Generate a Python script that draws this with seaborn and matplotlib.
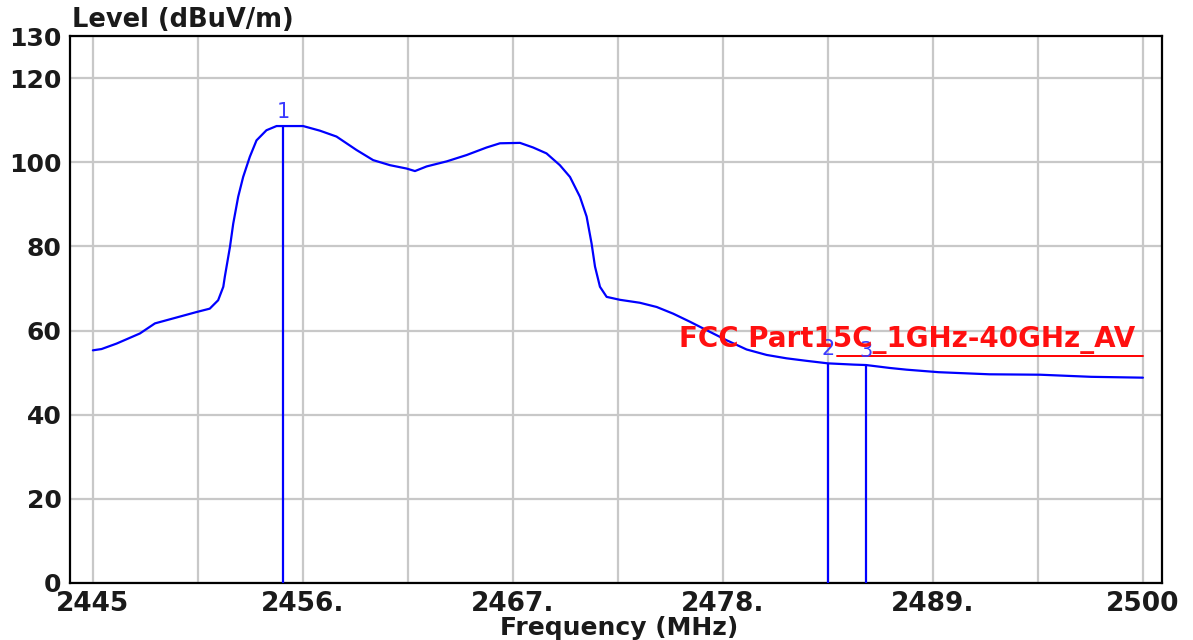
import matplotlib
matplotlib.use("Agg")
import matplotlib.pyplot as plt
import seaborn as sns
import pandas as pd

# ---- data ----
freq_mhz = [2445.0, 2445.45, 2446.24, 2447.46, 2448.25, 2449.38, 2450.43, 2451.12, 2451.56, 2451.83,
            2451.91, 2452.18, 2452.35, 2452.61, 2452.87, 2453.22, 2453.57, 2454.09, 2454.62, 2454.96,
            2456.01, 2456.89, 2457.76, 2458.81, 2459.68, 2460.56, 2461.43, 2461.87, 2462.48, 2463.53,
            2464.57, 2465.62, 2466.32, 2467.37, 2468.06, 2468.76, 2469.46, 2469.99, 2470.51, 2470.86,
            2471.12, 2471.30, 2471.56, 2471.91, 2472.61, 2473.65, 2474.53, 2475.40, 2476.27, 2477.14,
            2478.19, 2479.24, 2480.29, 2481.33, 2482.38, 2483.50, 2484.86, 2485.50, 2486.75, 2487.62,
            2489.30, 2491.96, 2494.62, 2497.29, 2500.0]
level_dbuv = [55.3, 55.6, 56.9, 59.3, 61.7, 63.1, 64.4, 65.2, 67.2, 70.4,
              72.8, 79.9, 85.4, 91.8, 96.5, 101.3, 105.2, 107.6, 108.6, 108.6,
              108.6, 107.5, 106.1, 102.9, 100.5, 99.3, 98.5, 97.9, 99.0, 100.2,
              101.7, 103.5, 104.5, 104.6, 103.5, 102.1, 99.3, 96.5, 91.8, 87.1,
              80.7, 75.2, 70.4, 68.0, 67.3, 66.6, 65.6, 64.0, 62.1, 60.1,
              57.7, 55.5, 54.2, 53.4, 52.8, 52.2, 51.9, 51.8, 51.1, 50.7,
              50.1, 49.6, 49.5, 49.0, 48.8]

marker_ids = ["1", "2", "3"]
marker_freq = [2454.96, 2483.50, 2485.50]
marker_level = [108.6, 52.2, 51.8]

limit_name = "FCC Part15C_1GHz-40GHz_AV"
limit_freq = [2484.0, 2500.0]
limit_level = [54.0, 54.0]

x_grid = [2445.0 + 5.5 * k for k in range(11)]
x_tick_labels = ["2445", "", "2456.", "", "2467.", "", "2478.", "", "2489.", "", "2500"]
y_ticks = [0, 20, 40, 60, 80, 100, 120, 130]
y_tick_labels = ["0", "20", "40", "60", "80", "100", "120", "130"]

# ---- style ----
sns.set_style("white")
plt.rcParams["font.family"] = ["DejaVu Sans"]

fig = plt.figure(figsize=(11.93, 6.40), dpi=100)
ax = fig.add_axes([70 / 1193, 1 - 583 / 640, (1162 - 70) / 1193, (583 - 36) / 640])

trace = pd.DataFrame({"Frequency": freq_mhz, "Level": level_dbuv})
sns.lineplot(data=trace, x="Frequency", y="Level", ax=ax, color="#0000ff",
             linewidth=1.6, estimator=None, sort=False, zorder=3)

limit = pd.DataFrame({"Frequency": limit_freq, "Level": limit_level})
sns.lineplot(data=limit, x="Frequency", y="Level", ax=ax, color="#ff0000",
             linewidth=1.4, estimator=None, sort=False, zorder=3)

# markers
ax.vlines(marker_freq, 0, marker_level, color="#0000ff", linewidth=1.6, zorder=4)
for mid, mf, ml in zip(marker_ids, marker_freq, marker_level):
    ax.text(mf, ml + 2.0, mid, color="#3a3aff", fontsize=15, ha="center",
            va="baseline", zorder=5)

ax.text(2499.6, 56.0, limit_name, color="#ff1010", fontsize=20, fontweight="bold",
        ha="right", va="baseline", zorder=5)

ax.set_xlim(2443.8, 2501.0)
ax.set_ylim(0, 130)
ax.set_xticks(x_grid)
ax.set_xticklabels(x_tick_labels, fontsize=19, fontweight="bold", color="#1a1a1a")
ax.set_yticks(y_ticks)
ax.set_yticklabels(y_tick_labels, fontsize=18, fontweight="bold", color="#1a1a1a")
ax.tick_params(axis="both", length=0)
ax.tick_params(axis="x", pad=6)
ax.tick_params(axis="y", pad=6)
ax.grid(True, color="#c8c8c8", linewidth=1.6, zorder=0)
ax.set_axisbelow(True)
for s in ax.spines.values():
    s.set_visible(True)
    s.set_color("black")
    s.set_linewidth(1.6)
ax.set_xlabel("")
ax.set_ylabel("")

fig.text(72 / 1193, 1 - 27 / 640, "Level (dBuV/m)", fontsize=18.5, fontweight="bold",
         color="#1a1a1a", ha="left", va="baseline")
fig.text(619 / 1193, 1 - 635 / 640, "Frequency (MHz)", fontsize=18, fontweight="bold",
         color="#1a1a1a", ha="center", va="baseline")

fig.savefig("out.png", dpi=100)
